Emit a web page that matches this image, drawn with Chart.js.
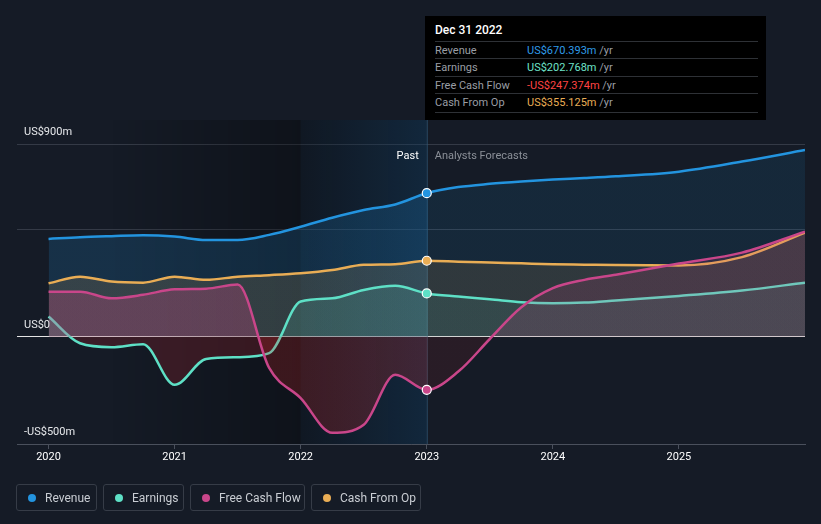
<!DOCTYPE html>
<html>
<head>
<meta charset="utf-8">
<script src="https://cdn.jsdelivr.net/npm/chart.js@4.4.0/dist/chart.umd.min.js"></script>
<style>
  html, body { margin: 0; padding: 0; background: #151b26; }
  body { width: 821px; height: 524px; position: relative; overflow: hidden; font-family: Roboto, sans-serif; }
  #wrap { position: absolute; left: 0; top: 0; width: 821px; height: 524px; }
  #tip { position: absolute; left: 425px; top: 16px; width: 341px; height: 104px; background: #000; }
  #tip .title { position: absolute; left: 10px; top: 7px; color: #fff; font-size: 12px; font-weight: 500; }
  #tip .row { position: absolute; left: 10px; width: 323px; height: 17.5px; line-height: 17.5px; border-top: 1px solid #2e3136; font-size: 11px; }
  #tip .row.last { border-bottom: 1px solid #2e3136; }
  #tip .lab { position: absolute; left: 0; color: #9a9ea5; }
  #tip .val { position: absolute; left: 92px; }
  #tip .unit { color: #9a9ea5; }
  #legend { position: absolute; left: 16px; top: 484px; display: flex; gap: 6px; }
  #legend .item { box-sizing: border-box; height: 27px; border: 1px solid #363c47; border-radius: 3px; display: flex; align-items: center; padding-left: 11px; color: #c9cdd3; font-size: 12px; }
  #legend .dot { width: 8px; height: 8px; border-radius: 50%; margin-right: 9px; }
</style>
</head>
<body>
<div id="wrap"><canvas id="chart" width="821" height="524"></canvas></div>
<div id="tip"></div>
<div id="legend"></div>
<script>
const seriesNames = ['Revenue', 'Earnings', 'Free Cash Flow', 'Cash From Op'];
const seriesColors = ['#2394df', '#5ee0c6', '#c9468a', '#e9ad55'];

const periods = [2020, 2020.25, 2020.5, 2020.75, 2021, 2021.25, 2021.5, 2021.75, 2022, 2022.25, 2022.5, 2022.75, 2023,
                 2023.25, 2023.5, 2023.75, 2024, 2024.25, 2024.5, 2025, 2025.5, 2026];
const revenue  = [457, 465, 470, 474, 468, 452, 452, 476, 514, 556, 592, 618, 670.393,
                  699, 714, 725, 734, 741, 749, 771, 818, 872];
const earnings = [95, -30, -48, -34, -224, -103, -95, -76, 165, 180, 219, 238, 202.768,
                  188, 176, 162, 157, 160, 170, 191, 216, 253];
const freeCashFlow = [211, 211, 180, 196, 222, 225, 244, -145, -286, -448, -410, -177, -247.374,
                      -162, -10, 138, 227, 266, 290, 342, 393, 491];
const cashFromOp = [250, 281, 258, 253, 281, 266, 281, 288, 297, 312, 336, 339, 355.125,
                    351, 347, 343, 339, 337, 335, 333, 372, 486];

const lastActual = 2023;
const tooltipDate = 'Dec 31 2022';
const xTickValues = [2020, 2021, 2022, 2023, 2024, 2025];
const xTickLabels = ['2020', '2021', '2022', '2023', '2024', '2025'];
const yTickValues = [-500, 0, 500, 900];
const yTickLabels = ['-US$500m', 'US$0', '', 'US$900m'];

const allSeries = [revenue, earnings, freeCashFlow, cashFromOp];
const legendWidths = [81, 81, 115, 110];

// tooltip box
const tip = document.getElementById('tip');
let html = '<div class="title">' + tooltipDate + '</div>';
const idx = periods.indexOf(lastActual);
const valColors = ['#2f9be8', '#6ee3c9', '#ff4343', '#e9ad55'];
seriesNames.forEach((name, i) => {
    const v = allSeries[i][idx];
    const txt = (v < 0 ? '-' : '') + 'US$' + Math.abs(v).toFixed(3) + 'm';
    html += '<div class="row' + (i === 3 ? ' last' : '') + '" style="top:' + (24.8 + i * 17.5) + 'px">' +
        '<span class="lab">' + name + '</span>' +
        '<span class="val"><span style="color:' + valColors[i] + '">' + txt + '</span> <span class="unit">/yr</span></span></div>';
});
tip.innerHTML = html;

// legend
const legend = document.getElementById('legend');
seriesNames.forEach((name, i) => {
    const el = document.createElement('div');
    el.className = 'item';
    el.style.width = legendWidths[i] + 'px';
    el.innerHTML = '<span class="dot" style="background:' + seriesColors[i] + '"></span>' + name;
    legend.appendChild(el);
});

const toPoints = arr => periods.map((p, i) => ({ x: p, y: arr[i] }));

const shading = {
    id: 'shading',
    beforeDatasetsDraw(chart) {
        const { ctx, chartArea: a, scales: { x } } = chart;
        const xs = x.getPixelForValue(2020.5), x0 = x.getPixelForValue(2022), x1 = x.getPixelForValue(lastActual);
        ctx.save();
        let g = ctx.createLinearGradient(xs, 0, x0, 0);
        g.addColorStop(0, 'rgba(0,0,0,0)');
        g.addColorStop(1, 'rgba(0,0,0,0.3)');
        ctx.fillStyle = g;
        ctx.fillRect(xs, a.top, x0 - xs, a.bottom - a.top);
        ctx.fillStyle = 'rgba(0,0,0,0.25)';
        ctx.fillRect(x0, a.top, x1 - x0, a.bottom - a.top);
        g = ctx.createLinearGradient(x0, 0, x1, 0);
        g.addColorStop(0, 'rgba(33,150,243,0.03)');
        g.addColorStop(1, 'rgba(33,150,243,0.15)');
        ctx.fillStyle = g;
        ctx.fillRect(x0, a.top, x1 - x0, a.bottom - a.top);
        ctx.strokeStyle = 'rgba(45,85,115,0.8)';
        ctx.lineWidth = 1;
        ctx.beginPath();
        ctx.moveTo(x1 + 0.5, a.top);
        ctx.lineTo(x1 + 0.5, a.bottom);
        ctx.stroke();
        ctx.restore();
    },
    afterDraw(chart) {
        const { ctx, chartArea: a, scales: { x, y } } = chart;
        ctx.save();
        ctx.font = '11px Roboto';
        ctx.textBaseline = 'middle';
        ctx.fillStyle = '#e6e8eb';
        yTickValues.forEach((v, i) => {
            if (yTickLabels[i]) ctx.fillText(yTickLabels[i], 24, y.getPixelForValue(v) - 12);
        });
        const xp = x.getPixelForValue(lastActual);
        ctx.textAlign = 'right';
        ctx.fillStyle = '#ffffff';
        ctx.fillText('Past', xp - 8, a.top + 36);
        ctx.textAlign = 'left';
        ctx.fillStyle = '#8b9098';
        ctx.fillText('Analysts Forecasts', xp + 8, a.top + 36);
        ctx.restore();
    }
};

function makeDataset(i, arr, order) {
    return {
        label: seriesNames[i],
        data: toPoints(arr),
        borderColor: seriesColors[i],
        backgroundColor: seriesColors[i],
        borderWidth: 2.5,
        cubicInterpolationMode: 'monotone',
        fill: 'origin',
        pointRadius: ctx => (ctx.raw && ctx.raw.x === lastActual ? 4.5 : 0),
        pointBorderColor: '#ffffff',
        pointBorderWidth: 1.2,
        pointBackgroundColor: seriesColors[i],
        order: order
    };
}

const chart = new Chart(document.getElementById('chart').getContext('2d'), {
    type: 'line',
    data: {
        datasets: [
            makeDataset(0, revenue, 4),
            makeDataset(3, cashFromOp, 3),
            makeDataset(1, earnings, 2),
            makeDataset(2, freeCashFlow, 1)
        ]
    },
    options: {
        responsive: false,
        animation: false,
        events: [],
        layout: { padding: { left: 17, right: 16, top: 120, bottom: 0 } },
        plugins: {
            legend: { display: false },
            tooltip: { enabled: false }
        },
        scales: {
            x: {
                type: 'linear',
                min: 2019.75,
                max: 2026,
                afterFit: s => { s.height = 80; },
                afterBuildTicks: s => { s.ticks = xTickValues.map(v => ({ value: v })); },
                ticks: {
                    color: '#ffffff',
                    font: { size: 11, family: 'Roboto' },
                    padding: 2,
                    maxRotation: 0,
                    autoSkip: false,
                    callback: v => xTickLabels[xTickValues.indexOf(v)] || ''
                },
                grid: { drawOnChartArea: false, color: '#4a505c', tickLength: 5 },
                border: { color: '#4a505c' }
            },
            y: {
                min: -500,
                max: 1012,
                afterFit: s => { s.width = 0; },
                afterBuildTicks: s => { s.ticks = yTickValues.map(v => ({ value: v })); },
                ticks: { display: false },
                grid: {
                    drawTicks: false,
                    color: ctx => (ctx.tick && ctx.tick.value === 0 ? '#e4e4e4' : '#343a46')
                },
                border: { display: false }
            }
        }
    },
    plugins: [shading]
});

// fills: stronger over the past, lighter over the forecast years
function stepFill(rgb, aPast, aFuture) {
    const x = chart.scales.x;
    const t = (x.getPixelForValue(lastActual) - x.left) / (x.right - x.left);
    const g = chart.ctx.createLinearGradient(x.left, 0, x.right, 0);
    g.addColorStop(0, 'rgba(' + rgb + ',' + aPast + ')');
    g.addColorStop(t, 'rgba(' + rgb + ',' + aPast + ')');
    g.addColorStop(Math.min(1, t + 0.002), 'rgba(' + rgb + ',' + aFuture + ')');
    g.addColorStop(1, 'rgba(' + rgb + ',' + aFuture + ')');
    return g;
}
const none = 'rgba(0,0,0,0)';
chart.data.datasets[0].fill = { target: 'origin', above: stepFill('33,148,224', 0.18, 0.11), below: none };
chart.data.datasets[1].fill = { target: 'origin', above: stepFill('232,172,82', 0.15, 0.12), below: none };
chart.data.datasets[2].fill = { target: 'origin', above: stepFill('94,224,200', 0.15, 0.10), below: stepFill('210,40,50', 0.2, 0.08) };
chart.data.datasets[3].fill = { target: 'origin', above: stepFill('200,70,130', 0.3, 0.16), below: stepFill('220,40,40', 0.22, 0.1) };
chart.update();
</script>
</body>
</html>
